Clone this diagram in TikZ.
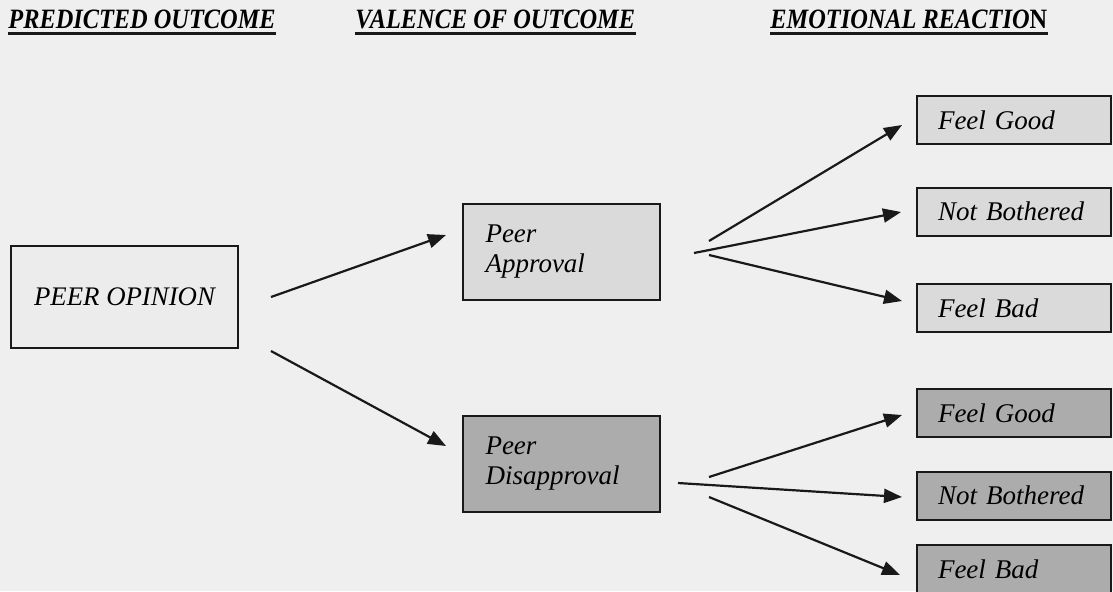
\documentclass[tikz,border=0pt]{standalone}
\usepackage{fontspec}
\setmainfont{Liberation Serif}
\newfontfamily\headfont[FakeStretch=0.87]{Liberation Serif}
\usetikzlibrary{arrows.meta,positioning,calc}
\definecolor{paper}{RGB}{239,239,239}
\definecolor{openbox}{RGB}{236,236,236}
\definecolor{lightbox}{RGB}{218,218,218}
\definecolor{darkbox}{RGB}{172,172,172}
\definecolor{inkline}{RGB}{25,25,25}

\begin{document}
\begin{tikzpicture}[x=0.5pt, y=-0.5pt, >={Triangle[length=9pt,width=7pt]},
        heading/.style={font=\headfont\fontsize{14}{16}\selectfont\bfseries\itshape, anchor=base west, inner sep=0pt},
        box/.style={draw=inkline, line width=1pt, font=\fontsize{13.5}{15}\selectfont\itshape},
        valbox/.style={box, minimum width=98.5pt, minimum height=48pt, text width=76pt, inner xsep=11pt, align=left},
        reactbox/.style={box, minimum width=97pt, minimum height=24pt, text width=76pt, inner xsep=10.5pt, align=left},
        arr/.style={->, line width=1.1pt, draw=inkline}]
        % Page
        \fill[paper] (0,0) rectangle (1113,591);
        \clip (0,0) rectangle (1113,591);

        % Column headings
        \node[heading] (hd1) at (8,28) {PREDICTED OUTCOME};
        \node[heading] (hd2) at (355,28) {VALENCE OF OUTCOME};
        \node[heading] (hd3) at (770,28) {EMOTIONAL REACTIO{\upshape N}};
        \foreach \h in {hd1,hd2,hd3}
            \draw[line width=1.4pt, inkline] ([yshift=-2.8pt]\h.base west) -- ([yshift=-2.8pt]\h.base east);

        % Predicted outcome
        \node[box, fill=openbox, minimum width=113.5pt, minimum height=51pt, font=\fontsize{13.4}{15}\selectfont\itshape] (opinion) at (124.5,297) {PEER OPINION};

        % Valence of outcome
        \node[valbox, fill=lightbox] (approval) at (561.5,252) {Peer\\Approval};
        \node[valbox, fill=darkbox] (disapproval) at (561.5,463.5) {Peer\\Disapproval};

        % Emotional reactions
        \node[reactbox, fill=lightbox] (good1) at (1014,120) {Feel Good};
        \node[reactbox, fill=lightbox] (calm1) at (1014,211.5) {Not Bothered};
        \node[reactbox, fill=lightbox] (bad1) at (1014,308) {Feel Bad};
        \node[reactbox, fill=darkbox] (good2) at (1014,413) {Feel Good};
        \node[reactbox, fill=darkbox] (calm2) at (1014,495.5) {Not Bothered};
        \node[reactbox, fill=darkbox] (bad2) at (1014,569) {Feel Bad};

        % Arrows from opinion
        \draw[arr] ($(opinion.east)+(32,0)$) -- ($(approval.west)+(-16,-17)$);
        \draw[arr] ($(opinion.east)+(32,54)$) -- ($(disapproval.west)+(-16,-17.5)$);

        % Arrows from approval
        \draw[arr] ($(approval.east)+(48,-11)$) -- ($(good1.west)+(-14,5)$);
        \draw[arr] ($(approval.east)+(33,1)$) -- ($(calm1.west)+(-15,0.5)$);
        \draw[arr] ($(approval.east)+(48,3)$) -- ($(bad1.west)+(-14,-7)$);

        % Arrows from disapproval
        \draw[arr] ($(disapproval.east)+(48,13.5)$) -- ($(good2.west)+(-14,2)$);
        \draw[arr] ($(disapproval.east)+(17,19.5)$) -- ($(calm2.west)+(-14,1.5)$);
        \draw[arr] ($(disapproval.east)+(48,33.5)$) -- ($(bad2.west)+(-16,6)$);
\end{tikzpicture}
\end{document}
